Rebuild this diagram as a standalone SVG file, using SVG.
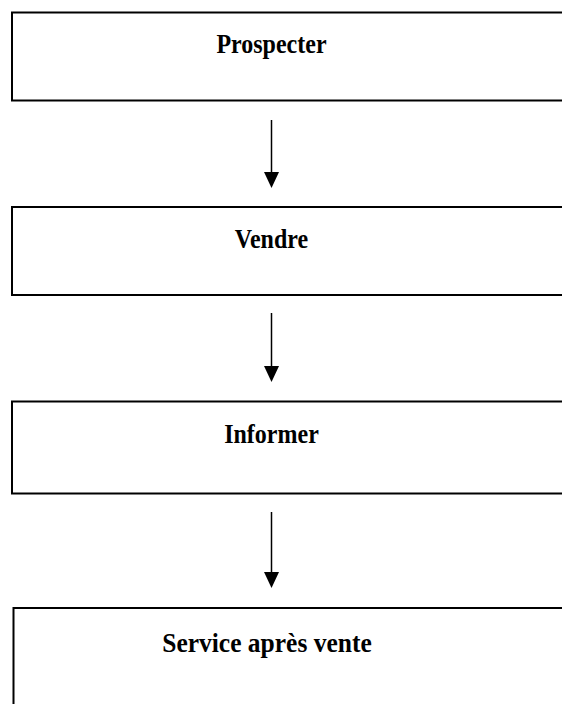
<svg xmlns="http://www.w3.org/2000/svg" width="562" height="704" viewBox="0 0 562 704">
<defs>
<style>
.box{fill:#fff;stroke:#000;stroke-width:2}
.lbl{font-family:"Liberation Serif","Times New Roman",serif;font-weight:bold;font-size:24px;fill:#000;text-anchor:middle}
.ln{stroke:#000;stroke-width:1.5;fill:none}
.hd{fill:#000}
</style>
</defs>
<rect width="562" height="704" fill="#fff"/>
<g id="node-prospecter">
<rect class="box" x="12" y="12.5" width="560" height="88"/>
<text class="lbl" x="271.5" y="53" transform="translate(0,-5.3) scale(1,1.1)">Prospecter</text>
</g>
<g id="node-vendre">
<rect class="box" x="12" y="207" width="560" height="88"/>
<text class="lbl" x="271.5" y="248" transform="translate(0,-24.8) scale(1,1.1)">Vendre</text>
</g>
<g id="node-informer">
<rect class="box" x="12" y="401.5" width="560" height="92"/>
<text class="lbl" x="271.5" y="443" transform="translate(0,-44.3) scale(1,1.1)">Informer</text>
</g>
<g id="node-sav">
<rect class="box" x="13.5" y="608" width="560" height="110"/>
<text class="lbl" x="267" y="652" style="font-size:25.5px" transform="translate(0,-65.2) scale(1,1.1)">Service après vente</text>
</g>
<g id="connectors">
<line class="ln" x1="271.5" y1="120" x2="271.5" y2="174"/>
<polygon class="hd" points="264,172 279,172 271.5,188"/>
<line class="ln" x1="271.5" y1="313" x2="271.5" y2="367"/>
<polygon class="hd" points="264,366 279,366 271.5,382"/>
<line class="ln" x1="271.5" y1="512" x2="271.5" y2="574"/>
<polygon class="hd" points="264,572 279,572 271.5,588"/>
</g>
</svg>
